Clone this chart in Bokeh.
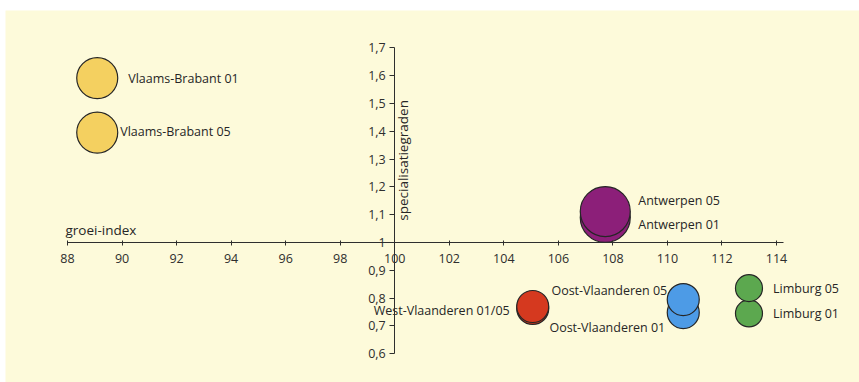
from bokeh.plotting import figure
from bokeh.models import ColumnDataSource, LinearAxis, FixedTicker, CustomJSTickFormatter, Range1d
from bokeh.core.properties import value
from bokeh.embed import file_html
from bokeh.resources import INLINE

# ---- data ----
provincies = ["Vlaams-Brabant", "Antwerpen", "West-Vlaanderen", "Oost-Vlaanderen", "Limburg"]
groei_index_01 = [89.09, 107.72, 105.06, 110.58, 112.99]
groei_index_05 = [89.09, 107.72, 105.06, 110.58, 112.99]
specialisatie_01 = [1.591, 1.090, 0.763, 0.748, 0.745]
specialisatie_05 = [1.395, 1.111, 0.770, 0.795, 0.836]
grootte = [20.5, 25.0, 16.0, 16.0, 13.5]
labels_01 = ["Vlaams-Brabant 01", "Antwerpen 01", "", "Oost-Vlaanderen 01", "Limburg 01"]
labels_05 = ["Vlaams-Brabant 05", "Antwerpen 05", "West-Vlaanderen 01/05", "Oost-Vlaanderen 05", "Limburg 05"]
x_ticks = [88, 90, 92, 94, 96, 98, 100, 102, 104, 106, 108, 110, 112, 114]
y_ticks = [0.6, 0.7, 0.8, 0.9, 1.0, 1.1, 1.2, 1.3, 1.4, 1.5, 1.6, 1.7]

# ---- styles ----
kleuren = ["#F4D060", "#8C1F79", "#D5391F", "#4D9BE6", "#5CA84F"]
lbl_dx_01 = [31, 33, 0, -18, 24]
lbl_dy_01 = [0, 7, 0, 15, 0]
lbl_dx_05 = [23, 33, -23, -16, 24]
lbl_dy_05 = [-1, -11, 4, -9, 0]
align_01 = ["left", "left", "right", "right", "left"]
align_05 = ["left", "left", "right", "right", "left"]

BG = "#FDFADA"
INK = "#2e2e2e"
FONT = "Open Sans"

p = figure(width=859, height=382, output_backend="svg", toolbar_location=None,
           x_axis_type=None, y_axis_type=None,
           x_range=Range1d(85.726, 117.043), y_range=Range1d(0.4968, 1.8339),
           min_border=0, min_border_top=10, min_border_left=5)
p.background_fill_color = BG
p.border_fill_color = "white"
p.outline_line_color = None

# axes crossing at (100, 1)
xaxis = LinearAxis(fixed_location=1.0, bounds=(88, 114.26),
                   ticker=FixedTicker(ticks=x_ticks))
xaxis.axis_line_color = INK
xaxis.major_tick_line_color = INK
xaxis.major_tick_in = 2
xaxis.major_tick_out = 3
xaxis.minor_tick_line_color = None
xaxis.major_label_standoff = 8
xaxis.major_label_text_font = FONT
xaxis.major_label_text_font_size = "12.5px"
xaxis.major_label_text_color = INK
p.add_layout(xaxis, "below")

yaxis = LinearAxis(fixed_location=100, bounds=(0.6, 1.7),
                   ticker=FixedTicker(ticks=y_ticks))
yaxis.formatter = CustomJSTickFormatter(
    code="return (Math.abs(tick-1)<1e-9) ? '1' : tick.toFixed(1).replace('.', ',');")
yaxis.axis_line_color = INK
yaxis.major_tick_line_color = INK
yaxis.major_tick_in = 0
yaxis.major_tick_out = 5
yaxis.minor_tick_line_color = None
yaxis.major_label_standoff = 4
yaxis.major_label_text_font = FONT
yaxis.major_label_text_font_size = "12.5px"
yaxis.major_label_text_color = INK
p.add_layout(yaxis, "left")

# bubbles: 01 first (behind), 05 on top
src01 = ColumnDataSource(dict(x=groei_index_01, y=specialisatie_01,
                              s=[2 * g for g in grootte], c=kleuren,
                              t=labels_01, dx=lbl_dx_01, dy=lbl_dy_01, a=align_01))
src05 = ColumnDataSource(dict(x=groei_index_05, y=specialisatie_05,
                              s=[2 * g for g in grootte], c=kleuren,
                              t=labels_05, dx=lbl_dx_05, dy=lbl_dy_05, a=align_05))
for src in (src01, src05):
    p.scatter("x", "y", source=src, size="s", marker="circle", fill_color="c",
              line_color="#262626", line_width=1.2)

for src in (src01, src05):
    p.text("x", "y", text="t", source=src, x_offset="dx", y_offset="dy",
           text_align="a", text_baseline="middle",
           text_font=value(FONT), text_font_size="12.5px", text_color="#262626")

# axis titles
p.text(x=[88], y=[1.0], text=["groei-index"], x_offset=-2, y_offset=-13,
       text_align="left", text_baseline="alphabetic",
       text_font=value(FONT), text_font_size="13.5px", text_color="#262626")
p.text(x=[100], y=[1.295], text=["specialisatiegraden"], x_offset=-1, y_offset=0,
       angle=1.5707963, text_align="center", text_baseline="top",
       text_font=value(FONT), text_font_size="13.5px", text_color="#262626")

open("out.html", "w").write(file_html(p, INLINE))
